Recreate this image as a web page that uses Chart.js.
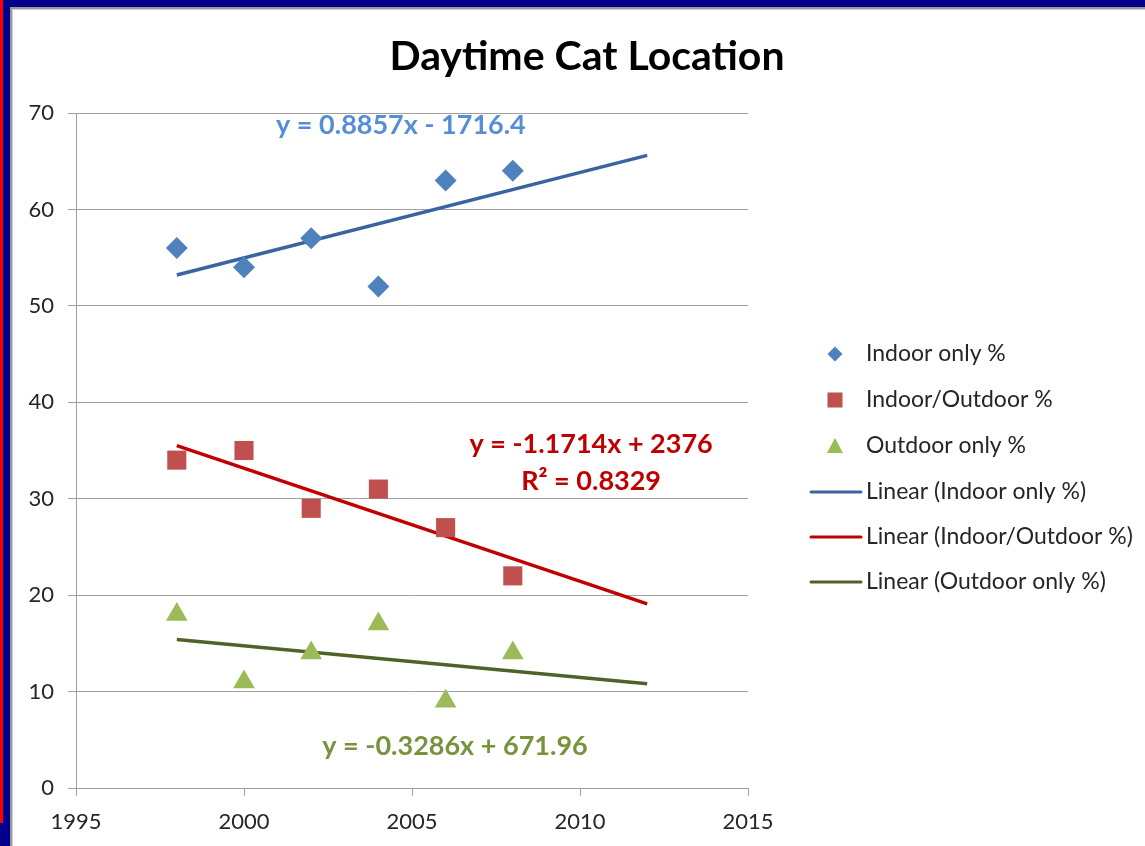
<!DOCTYPE html>
<html><head><meta charset="utf-8">
<script src="https://cdn.jsdelivr.net/npm/chart.js@4.4.1/dist/chart.umd.min.js"></script>
<style>html,body{margin:0;padding:0;background:#fff;overflow:hidden}#wrap{width:1145px;height:846px;position:relative}</style>
</head><body><div id="wrap"><canvas id="c" width="1145" height="846"></canvas></div>
<script>
// ---- data ----
const years = [1998, 2000, 2002, 2004, 2006, 2008];
const indoorOnly = [56, 54, 57, 52, 63, 64];
const indoorOutdoor = [34, 35, 29, 31, 27, 22];
const outdoorOnly = [18, 11, 14, 17, 9, 14];
const trendYears = [1998, 2012];
const trendIndoorOnly = [53.2, 65.6];
const trendIndoorOutdoor = [35.5, 19.1];
const trendOutdoorOnly = [15.4, 10.8];
const xTickValues = [1995, 2000, 2005, 2010, 2015];
const yTickValues = [0, 10, 20, 30, 40, 50, 60, 70];
const seriesLabels = ['Indoor only %', 'Indoor/Outdoor %', 'Outdoor only %'];
const trendLabels = ['Linear (Indoor only %)', 'Linear (Indoor/Outdoor %)', 'Linear (Outdoor only %)'];
const eqIndoor = ['y = 0.8857x - 1716.4'];
const eqIndoorOutdoor = ['y = -1.1714x + 2376', 'R\u00B2 = 0.8329'];
const eqOutdoor = ['y = -0.3286x + 671.96'];
const titleText = 'Daytime Cat Location';

const FONT = 'Lato, "Open Sans", sans-serif';
const pts = (xs, ys) => xs.map((x, i) => ({x: x, y: ys[i]}));

const markerColors = ['#4F81BD', '#C0504D', '#9BBB59'];
const trendColors = ['#3A64A0', '#C00000', '#4F6228'];
const eqColors = ['#558ED5', '#C00000', '#77933C'];

const framePlugin = {
  id: 'frame',
  beforeDraw(chart) {
    const ctx = chart.ctx, W = chart.width, H = chart.height;
    ctx.save();
    ctx.fillStyle = '#ffffff'; ctx.fillRect(0, 0, W, H);
    ctx.fillStyle = '#00008C'; ctx.fillRect(0, 0, W, 7); ctx.fillRect(0, 0, 10, H);
    ctx.fillStyle = '#FF0000'; ctx.fillRect(0, 0, 3, 823);
    ctx.fillStyle = '#9a9a9a'; ctx.fillRect(10, 7, W - 10, 2); ctx.fillRect(10, 7, 2, H - 7);
    ctx.fillStyle = '#d0d0d0'; ctx.fillRect(12, 9, W - 12, 1); ctx.fillRect(12, 9, 1, H - 9);
    ctx.restore();
  },
  afterDraw(chart) {
    const ctx = chart.ctx, xs = chart.scales.x, ys = chart.scales.y;
    ctx.save();
    // title
    ctx.textAlign = 'center'; ctx.textBaseline = 'middle';
    ctx.fillStyle = '#000000';
    ctx.font = 'bold 41px ' + FONT;
    ctx.fillText(titleText, 587, 57);
    // trendline equations
    ctx.font = 'bold 27px ' + FONT;
    ctx.fillStyle = eqColors[0];
    ctx.fillText(eqIndoor[0], xs.getPixelForValue(2004.67), ys.getPixelForValue(68.7));
    ctx.fillStyle = eqColors[1];
    ctx.fillText(eqIndoorOutdoor[0], xs.getPixelForValue(2010.33), ys.getPixelForValue(35.6));
    ctx.fillText(eqIndoorOutdoor[1], xs.getPixelForValue(2010.33), ys.getPixelForValue(31.8));
    ctx.fillStyle = eqColors[2];
    ctx.fillText(eqOutdoor[0], xs.getPixelForValue(2006.28), ys.getPixelForValue(4.3));

    // legend
    const mx = 835, tx = 866, rowY = [354, 400, 446, 492, 537, 582];
    ctx.textAlign = 'left'; ctx.font = '23px ' + FONT;
    for (let i = 0; i < 3; i++) {
      const y = rowY[i];
      ctx.fillStyle = markerColors[i];
      ctx.beginPath();
      if (i === 0) { ctx.moveTo(mx, y - 7.5); ctx.lineTo(mx + 7.5, y); ctx.lineTo(mx, y + 7.5); ctx.lineTo(mx - 7.5, y); }
      else if (i === 1) { ctx.rect(mx - 7.5, y - 7.5, 15, 15); }
      else { ctx.moveTo(mx, y - 8); ctx.lineTo(mx + 8, y + 7); ctx.lineTo(mx - 8, y + 7); }
      ctx.closePath(); ctx.fill();
      ctx.fillStyle = '#262626';
      ctx.fillText(seriesLabels[i], tx, y);
    }
    for (let i = 0; i < 3; i++) {
      const y = rowY[3 + i];
      ctx.strokeStyle = trendColors[i]; ctx.lineWidth = 3; ctx.lineCap = 'round';
      ctx.beginPath(); ctx.moveTo(811, y); ctx.lineTo(861, y); ctx.stroke();
      ctx.fillStyle = '#262626';
      ctx.fillText(trendLabels[i], tx, y);
    }
    ctx.restore();
  }
};

new Chart(document.getElementById('c'), {
  type: 'scatter',
  data: {
    datasets: [
      {label: trendLabels[0], type: 'line', data: pts(trendYears, trendIndoorOnly), borderColor: trendColors[0], borderWidth: 3.5, pointRadius: 0, fill: false, order: 2},
      {label: trendLabels[1], type: 'line', data: pts(trendYears, trendIndoorOutdoor), borderColor: trendColors[1], borderWidth: 3.5, pointRadius: 0, fill: false, order: 2},
      {label: trendLabels[2], type: 'line', data: pts(trendYears, trendOutdoorOnly), borderColor: trendColors[2], borderWidth: 3.5, pointRadius: 0, fill: false, order: 2},
      {label: seriesLabels[0], data: pts(years, indoorOnly), pointStyle: 'rectRot', pointRadius: 11, backgroundColor: markerColors[0], borderWidth: 0, order: 1},
      {label: seriesLabels[1], data: pts(years, indoorOutdoor), pointStyle: 'rect', pointRadius: 13.5, backgroundColor: markerColors[1], borderWidth: 0, order: 1},
      {label: seriesLabels[2], data: pts(years, outdoorOnly), pointStyle: 'triangle', pointRadius: 12.5, backgroundColor: markerColors[2], borderWidth: 0, order: 1}
    ]
  },
  options: {
    responsive: false, animation: false, devicePixelRatio: 1,
    layout: {padding: {left: 0, right: 397, top: 113, bottom: 0}},
    plugins: {
      legend: {display: false}, tooltip: {enabled: false}, title: {display: false}
    },
    scales: {
      x: {
        type: 'linear', min: 1995, max: 2015,
        afterBuildTicks: s => { s.ticks = xTickValues.map(v => ({value: v})); },
        afterFit: s => { s.height = 58; },
        ticks: {color: '#262626', font: {family: FONT, size: 22}, padding: 13, maxRotation: 0, callback: v => String(v)},
        grid: {drawOnChartArea: false, drawTicks: true, tickLength: 8, color: '#a0a0a0'},
        border: {display: true, color: '#a0a0a0', width: 1}
      },
      y: {
        min: 0, max: 70,
        afterBuildTicks: s => { s.ticks = yTickValues.map(v => ({value: v})); },
        afterFit: s => { s.width = 76; },
        ticks: {color: '#262626', font: {family: FONT, size: 22}, padding: 14, callback: v => String(v)},
        grid: {drawTicks: true, tickLength: 8, color: '#a0a0a0'},
        border: {display: true, color: '#a0a0a0', width: 1}
      }
    }
  },
  plugins: [framePlugin]
});
</script></body></html>
